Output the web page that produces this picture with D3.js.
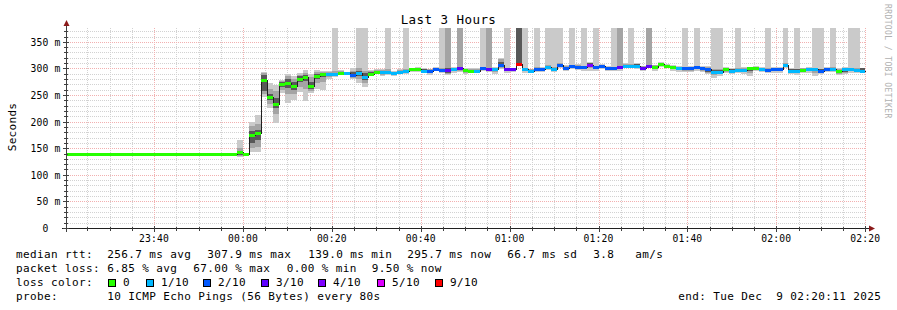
<!DOCTYPE html>
<html>
<head>
<meta charset="utf-8">
<script src="https://cdn.jsdelivr.net/npm/d3@7"></script>
<style>
  body { margin: 0; background: #fff; }
  svg { display: block; }
  text { font-family: "DejaVu Sans Mono", monospace; fill: #000; white-space: pre; }
</style>
</head>
<body>
<svg id="chart" width="897" height="310"></svg>
<script>
// smokeping "Last 3 Hours", 135 steps of 80 s, values in ms
const med = [
  139,139,139,139,139,139,139,139,139,139,
  139,139,139,139,139,139,139,139,139,139,
  139,139,139,139,139,139,139,139,139,
  142,139,175,179,278,246,233,270,273,267,280,284,267,286,289,
  289,289,292,291,288,291,284,290,294,294,293,291,294,295,298,298,296,295,
  299,297,297,298,300,297,296,296,300,299,299,307,298,298,308,298,296,
  299,299,303,298,307,301,304,303,302,307,302,304,301,300,302,305,305,
  305,301,305,302,308,305,302,300,300,300,302,300,298,294,294,298,296,
  297,297,300,301,298,297,298,298,307,296,296,297,298,298,296,298,299,296,298,298,297,296
];
// lost pings out of 10
const loss = [
  0,0,0,0,0,0,0,0,0,0,
  0,0,0,0,0,0,0,0,0,0,
  0,0,0,0,0,0,0,0,0,
  0,0,0,0,0,0,0,0,0,0,0,0,0,0,0,
  1,1,0,1,2,1,1,0,0,1,1,1,1,1,0,0,1,2,
  2,2,3,1,3,0,0,1,2,3,1,2,3,3,9,1,1,
  2,2,1,1,2,2,2,2,2,4,2,2,2,2,3,1,1,
  1,3,3,0,0,0,0,1,2,2,2,2,2,1,1,0,1,
  1,1,0,0,1,2,2,2,1,1,1,0,1,1,2,2,1,0,1,1,1,1
];
// smoke: outer / middle / inner ping ranges (400 = off the top)
const outerLo = [
  139,139,139,139,139,139,139,139,139,139,
  139,139,139,139,139,139,139,139,139,139,
  139,139,139,139,139,139,139,139,139,
  133,139,142,143,247,226,197,254,235,241,256,238,253,261,260,
  280,283,288,287,280,272,266,285,289,285,288,286,289,290,294,293,291,288,
  295,292,288,292,294,289,291,291,295,293,289,298,292,293,308,292,292,
  293,294,297,293,300,296,298,297,296,296,296,299,295,295,296,300,300,
  299,296,300,296,302,300,296,294,294,293,296,293,290,282,286,292,290,
  291,290,285,295,293,291,292,292,300,290,287,291,292,286,290,293,293,288,289,292,291,292
];
const outerHi = [
  139,139,139,139,139,139,139,139,139,139,
  139,139,139,139,139,139,139,139,139,139,
  139,139,139,139,139,139,139,139,139,
  165,139,200,212,294,272,269,279,290,285,291,297,290,297,295,
  296,400,297,294,300,400,400,297,299,298,400,296,299,400,301,302,301,299,
  303,400,400,302,400,301,300,300,400,400,302,320,400,301,400,400,299,
  400,303,400,400,400,306,400,308,400,312,400,308,305,400,400,310,400,
  310,305,400,307,312,309,306,304,400,305,400,305,304,400,400,302,300,
  400,302,303,305,303,400,302,303,400,300,400,301,303,400,400,303,400,300,302,400,400,301
];
const midLo = [
  139,139,139,139,139,139,139,139,139,139,
  139,139,139,139,139,139,139,139,139,139,
  139,139,139,139,139,139,139,139,139,
  136,139,150,152,252,234,215,260,252,252,266,262,258,272,274,
  284,285,289,288,282,280,272,287,291,288,290,288,291,292,296,295,293,291,
  297,294,290,295,296,292,293,293,297,295,293,300,295,295,308,295,293,
  296,296,300,295,302,298,301,300,299,300,299,301,298,297,298,302,302,
  301,298,302,299,305,302,299,297,296,296,299,296,292,287,289,294,293,
  294,293,292,298,295,294,295,295,302,293,291,294,295,291,293,295,296,290,292,295,294,295
];
const midHi = [
  139,139,139,139,139,139,139,139,139,139,
  139,139,139,139,139,139,139,139,139,139,
  139,139,139,139,139,139,139,139,139,
  150,139,192,196,291,262,258,276,285,280,288,292,283,293,293,
  294,296,295,293,296,300,296,295,297,297,298,294,297,298,300,300,299,298,
  301,300,400,300,400,299,298,298,303,400,300,318,301,300,400,301,298,
  302,301,306,302,310,304,307,306,305,311,305,306,303,303,400,308,308,
  309,304,400,306,311,307,305,302,303,303,305,303,302,298,298,300,299,
  300,300,302,303,301,300,301,301,311,298,299,300,301,301,299,301,302,298,300,301,300,300
];
const innerLo = [
  139,139,139,139,139,139,139,139,139,139,
  139,139,139,139,139,139,139,139,139,139,
  139,139,139,139,139,139,139,139,139,
  138,139,160,165,258,240,226,265,264,260,274,276,262,280,283,
  287,287,290,289,284,286,278,288,292,291,291,289,292,293,297,296,294,293,
  298,295,292,296,298,295,295,295,298,297,296,303,296,296,308,296,294,
  297,297,301,296,304,299,302,301,300,303,300,302,299,298,300,303,303,
  302,299,303,300,306,303,300,298,298,298,300,298,294,290,291,296,294,
  295,295,296,299,296,295,296,296,305,294,293,295,296,295,294,296,297,292,294,296,295,296
];
const innerHi = [
  139,139,139,139,139,139,139,139,139,139,
  139,139,139,139,139,139,139,139,139,139,
  139,139,139,139,139,139,139,139,139,
  145,139,182,185,288,252,245,274,280,275,285,288,275,290,292,
  292,292,294,293,293,295,292,293,296,296,295,293,296,297,299,299,298,297,
  300,299,300,299,302,298,297,297,301,301,300,312,300,299,400,300,297,
  301,300,305,300,309,303,306,305,304,310,304,305,303,302,304,307,307,
  308,303,307,305,310,307,304,301,302,302,304,302,300,297,297,299,298,
  299,299,301,302,300,299,300,300,309,298,298,299,300,300,298,300,301,297,299,300,299,300
];

const lossThresholds = [0, 1, 2, 3, 4, 5, 9];
const lossLabels = ["0", "1/10", "2/10", "3/10", "4/10", "5/10", "9/10"];
const lossColors = ["#26ff00", "#00b8ff", "#0059ff", "#5e00ff", "#7e00ff", "#dd00ff", "#ff0000"];

const yTicks = [0, 50, 100, 150, 200, 250, 300, 350];
const yTickLabels = ["0  ", "50 m", "100 m", "150 m", "200 m", "250 m", "300 m", "350 m"];

const rttStats = ["256.7 ms avg", "307.9 ms max", "139.0 ms min", "295.7 ms now", "66.7 ms sd", "3.8   am/s"];
const lossStats = ["6.85 % avg", "67.00 % max", "0.00 % min", "9.50 % now"];
const probeText = "10 ICMP Echo Pings (56 Bytes) every 80s";
const endText = "end: Tue Dec  9 02:20:11 2025";

// time frame
const tStart = Date.UTC(2025, 11, 8, 23, 20, 11);
const tEnd = Date.UTC(2025, 11, 9, 2, 20, 11);
const firstStep = Date.UTC(2025, 11, 8, 23, 20, 4);
const stepMs = 80 * 1000;

const svg = d3.select("#chart");
const pLeft = 66, pRight = 866, pTop = 28, pBottom = 228;

const x = d3.scaleUtc().domain([tStart, tEnd]).range([pLeft, pRight]);
const y = d3.scaleLinear().domain([0, 376]).range([pBottom, pTop]);

svg.append("rect").attr("width", 897).attr("height", 310).attr("fill", "#fff");

// grid
const grid = svg.append("g").attr("shape-rendering", "crispEdges");
const majorTimes = x.ticks(d3.utcMinute.every(20));
const minorTimes = x.ticks(d3.utcMinute.every(5)).filter(t => t.getUTCMinutes() % 20 != 0);
const px = v => Math.round(v) + 0.5;
const minorColor = "#d2d2d2", majorColor = "#f2b0b0";

grid.selectAll(".hmin")
  .data(d3.range(10, 376, 10).filter(v => v % 50 != 0))
  .join("line")
  .attr("x1", pLeft).attr("x2", pRight)
  .attr("y1", d => px(y(d))).attr("y2", d => px(y(d)))
  .attr("stroke", minorColor).attr("stroke-dasharray", "1,1");

grid.selectAll(".vmin")
  .data(minorTimes)
  .join("line")
  .attr("x1", d => px(x(d))).attr("x2", d => px(x(d)))
  .attr("y1", pTop).attr("y2", pBottom)
  .attr("stroke", minorColor).attr("stroke-dasharray", "1,1");

grid.selectAll(".hmaj")
  .data(yTicks.filter(v => v > 0))
  .join("line")
  .attr("x1", pLeft).attr("x2", pRight)
  .attr("y1", d => px(y(d))).attr("y2", d => px(y(d)))
  .attr("stroke", majorColor).attr("stroke-dasharray", "1,1");

grid.selectAll(".vmaj")
  .data(majorTimes)
  .join("line")
  .attr("x1", d => px(x(d))).attr("x2", d => px(x(d)))
  .attr("y1", pTop).attr("y2", pBottom)
  .attr("stroke", majorColor).attr("stroke-dasharray", "1,1");

// data
svg.append("defs").append("clipPath").attr("id", "plot")
  .append("rect").attr("x", pLeft).attr("y", pTop).attr("width", pRight - pLeft).attr("height", pBottom - pTop);

const steps = d3.range(med.length).map(i => ({
  i: i,
  t0: new Date(firstStep + i * stepMs),
  t1: new Date(firstStep + (i + 1) * stepMs),
  med: med[i], loss: loss[i]
}));

const plot = svg.append("g").attr("clip-path", "url(#plot)").attr("shape-rendering", "crispEdges");

const bands = [
  { lo: outerLo, hi: outerHi, color: "#cacaca" },
  { lo: midLo, hi: midHi, color: "#a4a4a4" },
  { lo: innerLo, hi: innerHi, color: "#585858" }
];

bands.forEach(b => {
  plot.append("g").selectAll("rect")
    .data(steps.filter(d => b.hi[d.i] > b.lo[d.i]))
    .join("rect")
    .attr("x", d => Math.round(x(d.t0)))
    .attr("width", d => Math.round(x(d.t1)) - Math.round(x(d.t0)))
    .attr("y", d => Math.round(y(b.hi[d.i])))
    .attr("height", d => Math.round(y(b.lo[d.i])) - Math.round(y(b.hi[d.i])))
    .attr("fill", b.color);
});

// median line
const medPts = steps.map(d => [x(d.t0), y(d.med)]);
medPts.push([x(steps[steps.length - 1].t1), y(steps[steps.length - 1].med)]);
plot.append("path")
  .attr("d", d3.line().curve(d3.curveStepAfter)(medPts.map(p => [px(p[0]), px(p[1])])))
  .attr("fill", "none")
  .attr("stroke", "#202020")
  .attr("stroke-width", 1);

const lossColor = n => {
  let c = lossColors[0];
  lossThresholds.forEach((th, i) => { if (n >= th) c = lossColors[i]; });
  return c;
};

plot.append("g").selectAll("rect")
  .data(steps)
  .join("rect")
  .attr("x", d => Math.round(x(d.t0)))
  .attr("width", d => Math.round(x(d.t1)) - Math.round(x(d.t0)))
  .attr("y", d => Math.round(y(d.med)) - 1)
  .attr("height", 3)
  .attr("fill", d => lossColor(d.loss));

// axes
const axes = svg.append("g").attr("shape-rendering", "crispEdges");
axes.append("line").attr("x1", pLeft + 0.5).attr("x2", pLeft + 0.5).attr("y1", 25).attr("y2", pBottom + 4).attr("stroke", "#404040");
axes.append("line").attr("x1", pLeft - 4).attr("x2", pRight + 4).attr("y1", pBottom + 0.5).attr("y2", pBottom + 0.5).attr("stroke", "#202020");

axes.selectAll(".xt")
  .data(minorTimes.concat(majorTimes))
  .join("line")
  .attr("x1", d => px(x(d))).attr("x2", d => px(x(d)))
  .attr("y1", d => pBottom - (d.getUTCMinutes() % 20 == 0 ? 2 : 1))
  .attr("y2", d => pBottom + (d.getUTCMinutes() % 20 == 0 ? 4 : 3))
  .attr("stroke", "#404040");

axes.selectAll(".yt")
  .data(d3.range(0, 376, 10))
  .join("line")
  .attr("x1", d => pLeft - (d % 50 == 0 ? 3 : 2)).attr("x2", d => pLeft + (d % 50 == 0 ? 3 : 2))
  .attr("y1", d => px(y(d))).attr("y2", d => px(y(d)))
  .attr("stroke", "#404040");

svg.append("path").attr("d", `M${pLeft - 2.5},26 L${pLeft + 3.5},26 L${pLeft + 0.5},20 Z`).attr("fill", "#8b1a1a");
svg.append("path").attr("d", `M${pRight + 3},${pBottom - 2.5} L${pRight + 3},${pBottom + 3.5} L${pRight + 9},${pBottom + 0.5} Z`).attr("fill", "#8b1a1a");

svg.append("g").selectAll("text")
  .data(yTicks)
  .join("text")
  .attr("x", 60.5)
  .attr("y", d => y(d) + 4)
  .attr("text-anchor", "end")
  .style("font-size", "9.7px").style("letter-spacing", "0.15px")
  .text((d, i) => yTickLabels[i]);

svg.append("g").selectAll("text")
  .data(majorTimes)
  .join("text")
  .attr("x", d => x(d))
  .attr("y", 241.5)
  .attr("text-anchor", "middle")
  .style("font-size", "9.7px").style("letter-spacing", "0.15px")
  .text(d => d3.utcFormat("%H:%M")(d));

// titles
svg.append("text").attr("x", 448.5).attr("y", 24).attr("text-anchor", "middle")
  .style("font-size", "12.5px").style("letter-spacing", "0.45px").text("Last 3 Hours");
svg.append("text").attr("transform", "translate(16,127) rotate(-90)").attr("text-anchor", "middle")
  .style("font-size", "11px").style("letter-spacing", "0.3px").text("Seconds");
svg.append("text").attr("transform", "translate(885,4) rotate(90)")
  .style("font-size", "8px").style("letter-spacing", "0.4px").style("fill", "#b0b0b0")
  .text("RRDTOOL / TOBI OETIKER");

// legend
const legend = svg.append("g").style("font-size", "11px").style("letter-spacing", "0.38px");
const rttX = [107.3, 207.3, 308.3, 407.3, 507.3, 593.3];
const lossX = [107.3, 193.3, 286.7, 371.7];
legend.append("text").attr("x", 16).attr("y", 258).text("median rtt:");
rttStats.forEach((s, i) => legend.append("text").attr("x", rttX[i]).attr("y", 258).text(s));
legend.append("text").attr("x", 16).attr("y", 272).text("packet loss:");
lossStats.forEach((s, i) => legend.append("text").attr("x", lossX[i]).attr("y", 272).text(s));
legend.append("text").attr("x", 16).attr("y", 286).text("loss color:");
const boxX = [108, 146, 203, 261, 318, 377, 435];
lossLabels.forEach((s, i) => {
  legend.append("rect").attr("x", boxX[i] + 0.5).attr("y", 279.5).attr("width", 7).attr("height", 7)
    .attr("fill", lossColors[i]).attr("stroke", "#000").attr("shape-rendering", "crispEdges");
  legend.append("text").attr("x", boxX[i] + 15).attr("y", 286).text(s);
});
legend.append("text").attr("x", 16).attr("y", 300).text("probe:");
legend.append("text").attr("x", 107.3).attr("y", 300).text(probeText);
legend.append("text").attr("x", 678.3).attr("y", 300).text(endText);
</script>
</body>
</html>
